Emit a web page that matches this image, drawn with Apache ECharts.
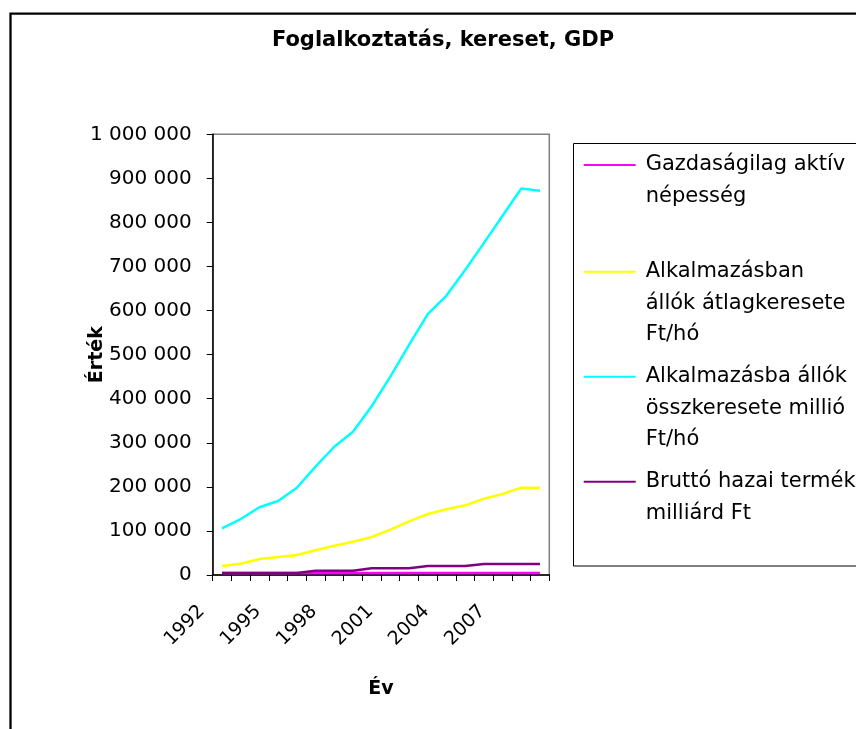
<!DOCTYPE html>
<html>
<head>
<meta charset="utf-8">
<script src="https://cdn.jsdelivr.net/npm/echarts@6/dist/echarts.min.js"></script>
<style>
html,body{margin:0;padding:0;background:#fff;}
#chart{width:856px;height:729px;}
</style>
</head>
<body>
<div id="chart"></div>
<script>
var years = ['1992','1993','1994','1995','1996','1997','1998','1999','2000','2001','2002','2003','2004','2005','2006','2007','2008','2009'];
var seriesNames = [
  'Gazdaságilag aktív népesség',
  'Alkalmazásban állók átlagkeresete Ft/hó',
  'Alkalmazásba állók összkeresete millió Ft/hó',
  'Bruttó hazai termék milliárd Ft'
];
var legendLabels = [
  'Gazdaságilag aktív\nnépesség',
  'Alkalmazásban\nállók átlagkeresete\nFt/hó',
  'Alkalmazásba állók\nösszkeresete millió\nFt/hó',
  'Bruttó hazai termék\nmilliárd Ft'
];
var activePop = [4300,4300,4300,4300,4300,4300,4300,4300,4300,4300,4300,4300,4300,4300,4300,4300,4300,4300];
var avgWage = [20400,25700,36300,40800,45400,56000,66500,75600,86200,102800,121800,138400,149000,158100,173100,183800,198000,198000];
var totalWage = [106000,127000,153600,168000,198000,246000,291000,325000,383000,450000,522000,592000,634000,692000,753000,815000,877000,872000];
var gdp = [4300,4300,4300,4300,4300,9800,9800,9800,15100,15100,15100,20400,20400,20400,25000,25000,25000,25000];
var colors = ['#FF00FF','#FFFF00','#00FFFF','#800080'];
var seriesData = [activePop, avgWage, totalWage, gdp];
var legendIconY = [165, 271.7, 376.7, 481.7];

var FONT = 'DejaVu Sans';
var LH = 31.5;

function fmt(v){ return String(v).replace(/\B(?=(\d{3})+(?!\d))/g, ' '); }

var legends = seriesNames.map(function(name, i){
  var lines = legendLabels[i].split('\n');
  var n = lines.length;
  var pad = '';
  for (var k = 0; k < n - 1; k++) pad += ' \n';
  return {
    data: [name],
    orient: 'vertical',
    left: 582.7,
    top: legendIconY[i] - (n - 0.5) * LH,
    padding: 0,
    itemWidth: 52,
    itemHeight: 14,
    selectedMode: false,
    itemStyle: { opacity: 0 },
    formatter: function(){ return pad + legendLabels[i]; },
    textStyle: {
      fontFamily: FONT, fontSize: 21, color: '#000', lineHeight: LH,
      padding: [0, 0, 0, 5]
    }
  };
});

var chart = echarts.init(document.getElementById('chart'));
chart.setOption({
  backgroundColor: '#fff',
  animation: false,
  title: {
    text: 'Foglalkoztatás, kereset, GDP',
    left: 443, top: 30, padding: 0, textAlign: 'center',
    textStyle: { fontFamily: FONT, fontWeight: 'bold', fontSize: 21, color: '#000' }
  },
  graphic: [
    { type: 'rect', silent: true, shape: { x: 10.5, y: 13.7, width: 1000, height: 1000 },
      style: { fill: 'none', stroke: '#000', lineWidth: 2.3 } },
    { type: 'rect', silent: true, shape: { x: 573.5, y: 143.5, width: 400, height: 422.5 },
      style: { fill: 'none', stroke: '#000', lineWidth: 1 } }
  ],
  legend: legends,
  grid: {
    left: 212.7, right: 856 - 549.3, top: 134.3, bottom: 729 - 575,
    show: true, borderColor: '#808080', borderWidth: 1.5, backgroundColor: 'transparent'
  },
  xAxis: {
    type: 'category', data: years, boundaryGap: true,
    name: 'Év', nameLocation: 'middle', nameGap: 105,
    nameTextStyle: { fontFamily: FONT, fontWeight: 'bold', fontSize: 19, color: '#000' },
    axisLine: { lineStyle: { color: '#000', width: 1.5 } },
    axisTick: { show: true, interval: 0, length: 6, lineStyle: { color: '#000', width: 1 } },
    axisLabel: {
      interval: 2, rotate: 45, margin: -3, color: '#000',
      fontFamily: FONT, fontSize: 19,
      align: 'right', verticalAlign: 'top',
      padding: [2, 40, 0, 0]
    },
    splitLine: { show: false }
  },
  yAxis: {
    type: 'value', min: 0, max: 1000000, interval: 100000,
    name: 'Érték', nameLocation: 'middle', nameGap: 106, nameRotate: 90,
    nameMoveOverlap: false,
    nameTextStyle: { fontFamily: FONT, fontWeight: 'bold', fontSize: 19, color: '#000' },
    axisLine: { show: true, lineStyle: { color: '#000', width: 1.5 } },
    axisTick: { show: true, length: 6, lineStyle: { color: '#000', width: 1 } },
    axisLabel: { margin: 21, color: '#000', fontFamily: FONT, fontSize: 20, formatter: fmt },
    splitLine: { show: false }
  },
  series: seriesNames.map(function(name, i){
    return {
      name: name, type: 'line', data: seriesData[i],
      symbol: 'none', showSymbol: false,
      lineStyle: { color: colors[i], width: 2.5 },
      itemStyle: { color: colors[i] },
      z: 2 + i
    };
  })
});
</script>
</body>
</html>
